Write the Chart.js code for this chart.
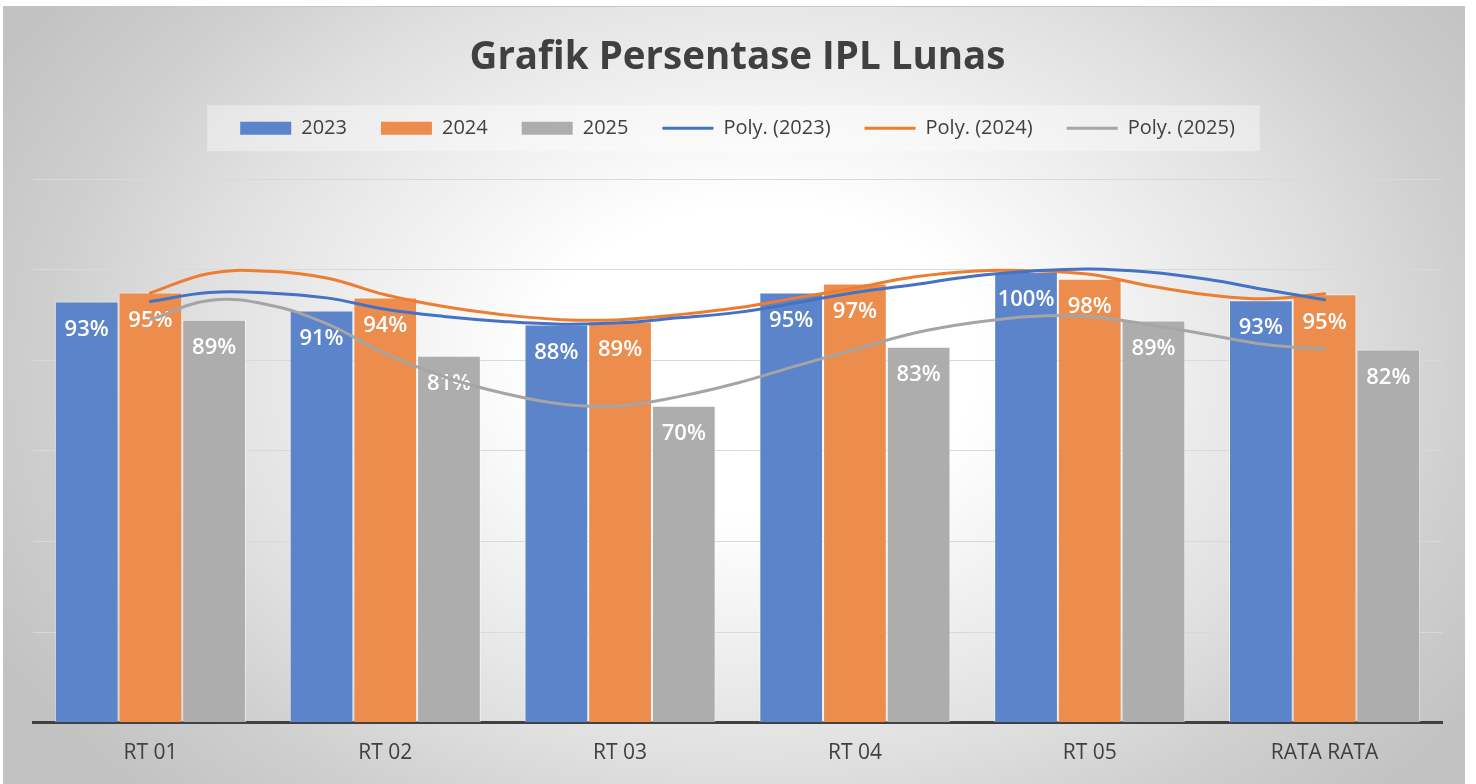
<!DOCTYPE html>
<html>
<head>
<meta charset="utf-8">
<script src="https://cdn.jsdelivr.net/npm/chart.js@4.4.1/dist/chart.umd.min.js"></script>
<style>
html,body{margin:0;padding:0;background:#fff;overflow:hidden;}
#wrap{position:absolute;left:0;top:0;width:1476px;height:784px;}
#wrap canvas{position:absolute;left:0;top:0;}
</style>
</head>
<body>
<div id="wrap"><canvas id="c" width="1476" height="784"></canvas><canvas id="t" width="1476" height="784"></canvas></div>
<script>
// ---- data ----
const categories = ['RT 01', 'RT 02', 'RT 03', 'RT 04', 'RT 05', 'RATA RATA'];
const values2023 = [93, 91, 87.9, 95, 99.5, 93.3];
const values2024 = [95, 93.9, 88.6, 97, 98, 94.6];
const values2025 = [89, 81, 70, 83, 88.8, 82.4];
// polynomial trend lines at category positions (0 = RT 01 ... 5 = RATA RATA)
const trendX    = [0, 0.25, 0.5, 0.75, 1, 1.25, 1.5, 1.75, 2, 2.25, 2.5, 2.75, 3, 3.25, 3.5, 3.75, 4, 4.25, 4.5, 4.75, 5];
const trend2023 = [93.0, 95.0, 94.9, 93.8, 91.3, 89.7, 88.6, 88.0, 88.3, 89.4, 90.6, 92.7, 95.0, 96.7, 98.6, 99.7, 100.2, 99.5, 97.9, 95.6, 93.4];
const trend2024 = [94.9, 99.2, 99.7, 98.2, 94.5, 91.9, 90.1, 89.0, 89.0, 90.1, 91.6, 93.8, 96.0, 98.4, 99.7, 99.8, 99.0, 96.5, 94.5, 93.6, 94.7];
const trend2025 = [89.0, 93.2, 92.3, 88.1, 81.5, 76.4, 72.8, 70.4, 70.0, 72.0, 75.0, 78.8, 82.4, 86.0, 88.3, 89.7, 89.7, 87.9, 85.7, 83.5, 82.5];
const yTicks = [0, 20, 40, 60, 80, 100, 120];
const barNames = ['2023', '2024', '2025'];
const trendNames = ['Poly. (2023)', 'Poly. (2024)', 'Poly. (2025)'];
const barColors = ['rgb(91,132,202)', 'rgb(237,141,77)', 'rgb(173,173,173)'];
const trendColors = ['#4472C4', '#ED7D31', '#A5A5A5'];

const FONT = "'Open Sans', 'Noto Sans', sans-serif";
const TXT = '#404040';
const Y_MIN = yTicks[0], Y_MAX = yTicks[yTicks.length - 1];

const pts = arr => trendX.map((x, i) => ({x: x, y: arr[i]}));

const bgPlugin = {
  id: 'bgPlugin',
  beforeInit(chart) {
    const L = chart.legend;
    if (L) {
      const orig = L.fit;
      L.fit = function () { orig.call(this); this.height += 31; };
    }
  },
  beforeDraw(chart) {
    const ctx = chart.ctx;
    ctx.save();
    ctx.fillStyle = '#ffffff';
    ctx.fillRect(0, 0, chart.width, chart.height);
    ctx.beginPath();
    ctx.rect(3, 6, 1462, 790);
    ctx.clip();
    ctx.translate(760, 360);
    ctx.scale(1.4, 1);
    const g = ctx.createRadialGradient(0, 0, 0, 0, 0, 620);
    g.addColorStop(0, '#ffffff');
    g.addColorStop(0.25, '#ffffff');
    g.addColorStop(0.5, '#ececec');
    g.addColorStop(0.65, '#e0e0e0');
    g.addColorStop(0.82, '#cfcfcf');
    g.addColorStop(1, '#c2c2c2');
    ctx.fillStyle = g;
    ctx.fillRect(-1200, -1200, 2400, 2400);
    ctx.restore();
    ctx.save();
    ctx.strokeStyle = '#c6c6c6';
    ctx.lineWidth = 1;
    ctx.beginPath();
    ctx.moveTo(3, 6.5); ctx.lineTo(1465, 6.5);
    ctx.stroke();
    ctx.restore();
    const lg = chart.legend;
    if (lg && lg.legendHitBoxes && lg.legendHitBoxes.length) {
      const hb = lg.legendHitBoxes;
      const l = Math.min(...hb.map(h => h.left)) - 33;
      const r = Math.max(...hb.map(h => h.left + h.width)) + 25;
      const cy = hb[0].top + hb[0].height / 2;
      ctx.save();
      ctx.fillStyle = 'rgba(255,255,255,0.38)';
      ctx.fillRect(l, cy - 23, r - l, 46);
      ctx.restore();
    }
  },
  afterDatasetDraw(chart, args) {
    const ds = chart.data.datasets[args.index];
    const ctx = chart.ctx;
    ctx.save();
    ctx.fillStyle = '#ffffff';
    ctx.font = "600 22px " + FONT;
    ctx.textAlign = 'center';
    ctx.textBaseline = 'middle';
    args.meta.data.forEach((el, i) => {
      ctx.fillText(Math.round(ds.data[i]) + '%', el.x, el.y + 28);
    });
    ctx.restore();
  }
};

const barSeries = [values2023, values2024, values2025];
const trendSeries = [trend2023, trend2024, trend2025];

const main = new Chart(document.getElementById('c'), {
  type: 'bar',
  data: {
    labels: categories,
    datasets: barSeries.map((vals, i) => ({
      label: barNames[i], data: vals, backgroundColor: barColors[i],
      borderColor: 'rgba(255,255,255,0.55)', borderWidth: 1,
      categoryPercentage: 0.814, barPercentage: 1.0
    }))
  },
  options: {
    responsive: false,
    animation: false,
    events: [],
    layout: {padding: {left: 33, right: 34, top: 0, bottom: 0}},
    scales: {
      x: {
        type: 'category', offset: true,
        grid: {display: false, drawTicks: false},
        border: {display: true, color: TXT, width: 3},
        ticks: {color: TXT, font: {family: FONT, size: 21}, padding: 18}
      },
      y: {
        min: Y_MIN, max: Y_MAX,
        afterBuildTicks: axis => { axis.ticks = yTicks.map(v => ({value: v})); },
        grid: {color: '#d9d9d9', lineWidth: 1, drawTicks: false},
        border: {display: false},
        ticks: {display: false}
      }
    },
    plugins: {
      title: {
        display: true, text: 'Grafik Persentase IPL Lunas', color: TXT,
        font: {family: FONT, size: 38.5, weight: 'bold'},
        padding: {top: 35, bottom: 3}
      },
      legend: {
        display: true, position: 'top',
        labels: {
          usePointStyle: true, pointStyleWidth: 51, boxHeight: 13,
          padding: 34, color: TXT, font: {family: FONT, size: 20},
          generateLabels() {
            const items = [];
            barNames.forEach((n, i) => items.push({
              text: n, fillStyle: barColors[i], strokeStyle: barColors[i], lineWidth: 0,
              pointStyle: 'rect', hidden: false, fontColor: TXT
            }));
            trendNames.forEach((n, i) => items.push({
              text: n, fillStyle: trendColors[i], strokeStyle: trendColors[i], lineWidth: 3,
              pointStyle: 'line', hidden: false, fontColor: TXT
            }));
            return items;
          }
        }
      },
      tooltip: {enabled: false}
    }
  },
  plugins: [bgPlugin]
});

// trend lines drawn on an overlay chart aligned to the main plot area
const ca = main.chartArea;
new Chart(document.getElementById('t'), {
  type: 'line',
  data: {
    datasets: trendSeries.map((arr, i) => ({
      label: trendNames[i], data: pts(arr), borderColor: trendColors[i],
      borderWidth: 3, pointRadius: 0, fill: false, tension: 0.4,
      borderCapStyle: 'round', borderJoinStyle: 'round'
    }))
  },
  options: {
    responsive: false,
    animation: false,
    events: [],
    layout: {padding: {left: ca.left, top: ca.top, right: 1476 - ca.right, bottom: 784 - ca.bottom}},
    scales: {
      x: {type: 'linear', min: -0.5, max: 5.5, offset: false, display: false},
      y: {type: 'linear', min: Y_MIN, max: Y_MAX, display: false}
    },
    plugins: {legend: {display: false}, title: {display: false}, tooltip: {enabled: false}}
  }
});
</script>
</body>
</html>
